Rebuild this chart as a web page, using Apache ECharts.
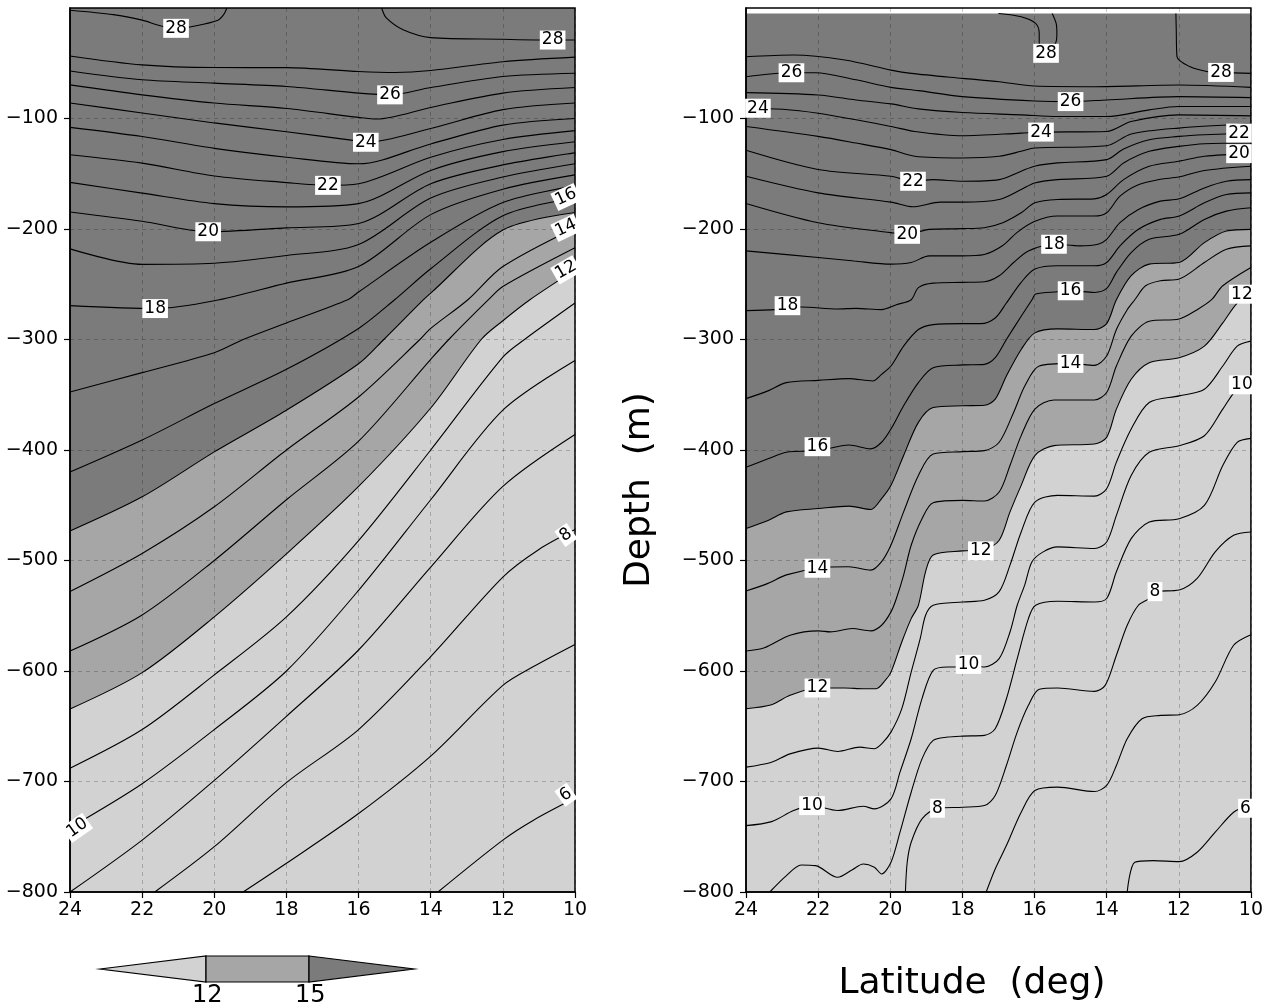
<!DOCTYPE html>
<html>
<head>
<meta charset="utf-8">
<script src="https://cdn.jsdelivr.net/npm/echarts/dist/echarts.min.js"></script>
<style>
  html, body { margin: 0; padding: 0; background: #fff; }
  #chart { width: 1266px; height: 1004px; }
</style>
</head>
<body>
<div id="chart"></div>
<script>
// colours of the three shaded bands (<12, 12-15, >15)
const LIGHT = '#d2d2d2'
const MID = '#a6a6a6'
const DARK = '#7b7b7b'
const FONT = 'DejaVu Sans'

const latMin = 10
const latMax = 24
const depthMin = -800
const depthMax = 0
const depthTicks = [-800, -700, -600, -500, -400, -300, -200, -100]
const rightDataTop = -5 // right section starts a few metres below the surface

// ---- left panel contours: [lat, depth] ----
const left28a = [[24,-2],[22.8,-6],[22,-11],[21.5,-16],[21.06,-18.4],[20.5,-16],[19.9,-11],[19.74,-6],[19.65,0]]
const left28b = [[15.36,0],[15.23,-9],[14.75,-20],[14,-26.8],[12,-28.3],[10.67,-29],[10,-29]]
const left27 = [[24,-43.4],[22,-51.5],[20,-53.9],[18,-54],[16,-57.5],[15,-58.4],[14,-56.6],[12,-48.6],[10,-44.5]]
const left26 = [[24,-57],[22,-65],[20,-68],[18,-71],[16,-77],[15.13,-78.6],[14,-72],[12,-62],[10,-59]]
const left25 = [[24,-69.6],[22,-78.6],[20,-86],[18,-91],[16,-99],[15.5,-100.5],[14,-90],[12,-77],[10,-72]]
const left24 = [[24,-86],[22,-95],[20,-104],[18,-112],[16,-120.5],[15.8,-121.5],[14,-109],[12,-92],[10,-86]]
const left23 = [[24,-108],[22,-116.3],[20,-127],[18,-135],[16,-141],[14,-123],[12,-106],[10,-100]]
const left22 = [[24,-132.8],[22,-140.4],[20,-152],[18,-158],[16.85,-160.5],[16,-159],[14,-135],[12,-119],[10,-111]]
const left21 = [[24,-157.8],[22,-167.5],[20,-177],[18,-180],[16,-177],[14,-147],[12,-130],[10,-121]]
const left20 = [[24,-184.6],[22,-193],[20.17,-202.5],[18,-199],[16,-195],[14,-159],[12,-142],[10,-131]]
const left19 = [[24,-218],[22,-232],[20,-231],[18,-224],[16,-214],[14,-172],[12,-153],[10,-141]]
const left18 = [[24,-269.3],[21.64,-272],[20,-265],[18,-249],[16,-234],[14,-187],[12,-164],[10,-151]]
const left17 = [[24,-347.5],[22,-330],[20,-312],[19.2,-300],[18,-285],[16.3,-264],[16,-257],[14,-212],[12,-176],[10,-161]]
const left16 = [[24,-420],[22,-391],[20,-358],[18,-327],[16,-290],[15,-264],[14,-236],[12,-188],[10,-172]]
const left15 = [[24,-473.3],[22,-442.4],[20,-401.7],[18,-364],[16,-322],[15.3,-300],[14.2,-264],[14,-258],[12,-201],[10,-185]]
const left14 = [[24,-528],[22,-493.6],[20,-451.4],[18,-400],[16,-352],[14.3,-300],[14,-290],[12.97,-264],[12,-234],[10,-199]]
const left13 = [[24,-582],[22,-549.3],[20,-500],[18,-445],[16,-392],[14,-318],[13.5,-300],[12.4,-264],[12,-252],[10,-217]]
const left12 = [[24,-634.4],[22,-601.5],[20,-551],[18,-494],[16,-433],[14,-362],[12.6,-300],[12,-283],[11.25,-264],[10,-237]]
const left11 = [[24,-688],[22,-653],[20,-603.5],[18,-551],[16,-482],[14,-400],[12,-316],[11.4,-300],[10,-267]]
const left10 = [[24,-741.8],[22,-702],[20,-653],[18,-600],[16,-527],[14,-445],[12,-364],[10,-319]]
const left9 = [[24,-800],[22,-753],[20,-699],[18,-641],[16,-581],[14,-506],[12,-433],[10,-386]]
const left8 = [[21.65,-800],[20,-759],[18,-701],[16,-653],[14,-587],[12,-515],[11,-490],[10,-472]]
const left7 = [[19.2,-800],[18,-774],[16,-729],[14,-677],[12,-613],[11.15,-596],[10,-576]]
const left6 = [[13.8,-800],[12,-753],[11.15,-735],[10,-715]]

// ---- right panel contours ----
const right28a = [[17.0,-5],[16.37,-8],[15.97,-14],[15.87,-23],[15.87,-32],[15.68,-41],[15.42,-32],[15.38,-23],[15.4,-14],[15.51,-5]]
const right28b = [[12.08,-5],[12.07,-20],[12.05,-44],[11.7,-53],[11.19,-57.7],[10.83,-58.3],[10,-59.2]]
const right27 = [[24,-44.1],[22.68,-42.6],[21.26,-47.1],[19.98,-56.2],[19.42,-59.2],[18,-63.7],[16.98,-66.7],[16,-70.6],[14.34,-71.2],[12,-69.7],[10,-71.8]]
const right26 = [[24,-62.2],[22.75,-58.6],[22.07,-58.6],[20.95,-65],[19.98,-71.8],[19.22,-74.8],[18,-80.2],[16,-84.1],[15,-84.7],[14,-83.2],[12,-80.2],[10,-81.1]]
const right25 = [[24,-76.6],[22,-78.7],[20.95,-83.2],[19.98,-86.8],[19.22,-91.3],[18,-94.6],[16.37,-96.7],[15.36,-98.2],[14,-98.2],[12.82,-92.2],[12,-89.2],[10,-89.2]]
const right24 = [[24,-90.7],[22.98,-91.6],[22,-95.2],[20.95,-101.2],[19.98,-107.2],[19.32,-111.7],[18,-115.6],[16.37,-113.2],[15.82,-112.3],[14,-111.7],[13.32,-102.7],[12,-96.7],[10,-97.6]]
const right23 = [[24,-107.2],[22,-116.2],[20.95,-122.2],[19.98,-128.2],[19.32,-134.2],[18,-135.7],[16.98,-134.2],[16.37,-129.7],[16,-126.7],[14,-124.6],[13.32,-114],[12,-108.7],[10,-104.8]]
const right22 = [[24,-128.8],[22,-146.2],[19.98,-152.3],[19.37,-156.8],[18.81,-155.3],[18,-156.8],[16.98,-155.3],[16.37,-147.7],[16,-143.2],[15.36,-140.2],[14,-137.2],[13.53,-127.6],[12.82,-119.2],[12,-116.2],[11.29,-114.7],[10,-113.2]]
const right21 = [[24,-152.3],[22,-167.3],[19.98,-175.7],[19.37,-179.9],[18.61,-175.7],[18,-175.7],[16.98,-173.3],[16.37,-164.3],[16,-158.3],[15.36,-155.3],[14,-152.3],[13.53,-140.2],[12.82,-129.7],[12,-125.2],[11.29,-122.8],[10,-122.2]]
const right20 = [[24,-176.9],[22,-194.3],[19.98,-203.3],[19.53,-204.8],[18.92,-200.3],[18,-199.7],[17.39,-198.8],[16.88,-194.3],[16.37,-185.3],[15.99,-176.3],[15.36,-173.3],[14.34,-172.7],[14,-168.8],[13.53,-155.3],[12.82,-143.2],[12,-138.7],[11.29,-134.2],[10,-131.8]]
const right19 = [[24,-219.8],[22,-225.8],[21,-229],[19.98,-231.8],[19.42,-230.3],[18.92,-224.3],[18,-224.3],[17.39,-223],[16.88,-215],[16.48,-203],[15.99,-193],[15.36,-188.3],[14.34,-188.3],[14,-185.3],[13.63,-170.3],[13.12,-160],[12.51,-155],[12,-153],[11.29,-147],[10,-143.2]]
const right18 = [[24,-273.9],[23.19,-273],[22.47,-270.6],[21.46,-272.4],[20.95,-271.8],[20.24,-273],[19.83,-268.5],[19.42,-264],[19.22,-253],[18.81,-249],[18,-248.3],[17.39,-247.7],[16.98,-242.3],[16.58,-230.3],[16.17,-219.8],[15.46,-213.8],[14.75,-215.3],[14.24,-213.8],[14,-209.3],[13.63,-194.3],[13.12,-182.3],[12.51,-174.8],[11.99,-172.7],[11.29,-162.8],[10.68,-156.8],[10,-155.3]]
const right17 = [[24,-353.5],[23.39,-346.5],[22.88,-339],[21.99,-337],[21.15,-335.4],[20.49,-337.5],[20.24,-331.5],[19.98,-324],[19.63,-306],[19.22,-291],[18.81,-286.5],[17.99,-285.6],[17.49,-285.6],[17.09,-280.5],[16.78,-267],[16.37,-248.3],[15.99,-236.3],[15.36,-233.3],[14.34,-233.3],[14,-230.3],[13.63,-215.3],[13.12,-200.3],[12.51,-191.3],[11.99,-188.3],[11.29,-176.3],[10.68,-168.8],[10,-167.3]]
const right16 = [[24,-415.6],[23.39,-408],[22.88,-402],[21.99,-400.6],[21.15,-395.5],[20.54,-399],[20.24,-393],[19.98,-381],[19.63,-360],[19.22,-339],[18.81,-325.5],[17.99,-323],[17.39,-322.5],[17.09,-316.5],[16.78,-300],[16.37,-279],[16.07,-264],[15.97,-258.9],[15.36,-256.8],[15.0,-255.9],[14.34,-257.4],[14,-253.8],[13.73,-239.3],[13.32,-221.3],[12.82,-209.3],[11.99,-204.8],[11.29,-191.3],[10.68,-183.8],[10,-180.8]]
const right15 = [[24,-471],[23.39,-463.7],[22.88,-456],[21.99,-453],[21.15,-450.8],[20.54,-453.8],[20.24,-444],[19.98,-432],[19.63,-405],[19.22,-375],[18.81,-361.6],[17.99,-360],[17.39,-359.5],[17.09,-354],[16.78,-333],[16.37,-309],[15.99,-294],[15.36,-290.4],[14.34,-291],[14,-285.6],[13.73,-264],[13.32,-242.3],[12.82,-231.8],[11.99,-230.3],[11.29,-212.3],[10.68,-201.8],[10,-200.3]]
const right14 = [[24,-527.6],[23.39,-520.7],[22.88,-513],[22.02,-507],[21.15,-505.7],[20.54,-508.7],[20.24,-501],[19.98,-486],[19.63,-456],[19.22,-423],[18.81,-403.6],[17.99,-401.5],[17.39,-400.6],[16.98,-393],[16.58,-366],[16.27,-342],[15.87,-324],[15.0,-321.6],[14.34,-323.4],[14,-315],[13.73,-291],[13.43,-273],[13.22,-264],[12.92,-251.4],[12.51,-246.8],[11.99,-245.3],[11.29,-230.3],[10.68,-218.3],[10,-215.3]]
const right13 = [[24,-581.9],[23.49,-579],[22.78,-567.6],[21.99,-563.7],[21.66,-564.6],[21.05,-561.6],[20.54,-563.7],[20.24,-558.6],[19.98,-546.5],[19.83,-534.4],[19.63,-513.2],[19.42,-486.2],[19.12,-462.2],[18.81,-447.7],[17.99,-445.6],[17.39,-446.2],[16.98,-438],[16.68,-414],[16.37,-387],[15.99,-363],[15.46,-354.7],[14.34,-354.7],[14,-348],[13.73,-324],[13.32,-297],[12.82,-283.5],[11.99,-281.4],[11.49,-273],[11.09,-264],[10.78,-251.4],[10,-234.8]]
const right12 = [[24,-634.1],[23.29,-630.5],[22.78,-622],[22.02,-615.4],[21.26,-615.4],[20.75,-616],[20.39,-616],[20.14,-608.5],[19.98,-601],[19.68,-573.7],[19.42,-552.6],[19.22,-540.5],[19.02,-510],[18.81,-495],[17.99,-491.3],[17.39,-489.8],[16.98,-481.7],[16.68,-456],[16.37,-432],[15.99,-405],[15.46,-396],[14.34,-394.6],[14,-388.6],[13.73,-363],[13.32,-336],[12.82,-321],[11.99,-316.5],[11.29,-306],[10.78,-285],[10.38,-267],[10,-258.9]]
const right11 = [[24,-687],[23.29,-682.5],[22.78,-675],[21.99,-669.8],[21.46,-672.8],[20.85,-668.9],[20.44,-670.4],[20.24,-665.9],[19.98,-655.3],[19.68,-634.1],[19.42,-601],[19.17,-570.7],[19.02,-549.5],[18.81,-540.5],[17.99,-537.5],[17.39,-536],[16.98,-528.2],[16.68,-504.2],[16.37,-474.2],[15.99,-447.1],[15.36,-441.1],[14.34,-441.7],[14,-435],[13.73,-411],[13.32,-381],[12.82,-357],[11.99,-351],[11.29,-345],[10.78,-324],[10.38,-306],[10,-301.5]]
const right10 = [[24,-739.9],[23.29,-736.3],[22.68,-726.3],[22.17,-721.8],[21.46,-726.3],[20.75,-722.4],[20.44,-724.8],[19.98,-715.7],[19.73,-691.5],[19.42,-661.3],[19.12,-625],[18.81,-599.4],[18.41,-596.4],[17.99,-596.4],[17.83,-594],[17.39,-596.4],[16.98,-588.8],[16.68,-564.7],[16.48,-540.5],[16.27,-522],[16.07,-501.2],[15.76,-492.2],[15.36,-487.7],[14.34,-489.2],[14,-483.2],[13.73,-459.2],[13.32,-423.1],[12.82,-402.1],[11.99,-396.1],[11.29,-387.1],[10.78,-363],[10.38,-345],[10,-341.4]]
const right9 = [[23.34,-800],[22.88,-785.2],[22.47,-775.5],[22.07,-776.1],[21.46,-786.7],[21.05,-779.8],[20.75,-774.6],[20.44,-777.6],[20.24,-783.7],[19.98,-773.1],[19.73,-745.9],[19.42,-709.7],[19.12,-679.5],[18.81,-662.8],[18.41,-659.8],[17.99,-658.9],[17.39,-658.3],[17.09,-652.3],[16.78,-625.1],[16.48,-588.8],[16.17,-552.6],[15.97,-540.5],[15.36,-536.9],[14.34,-537.5],[14,-534.4],[13.73,-510.2],[13.32,-480.2],[12.82,-465.2],[11.99,-462.2],[11.29,-450.2],[10.78,-414.1],[10.38,-393.1],[10,-389.5]]
const right8 = [[19.58,-800],[19.53,-773.1],[19.42,-755],[19.12,-733.8],[18.69,-724.2],[17.99,-723.3],[17.39,-721.8],[17.09,-712.7],[16.78,-685.5],[16.48,-655.3],[16.17,-631.1],[15.87,-616.6],[15.36,-615.4],[14.34,-618.4],[14.04,-613],[13.73,-585.8],[13.43,-558.6],[13.12,-540.5],[12.82,-534.4],[12.66,-528.2],[11.99,-526.7],[11.49,-516.2],[10.99,-492.2],[10.48,-477.2],[10,-474.2]]
const right7 = [[17.34,-800],[17.09,-779.2],[16.78,-758],[16.37,-727.8],[15.99,-708.2],[15.36,-705.1],[14.34,-709.1],[14,-703.6],[13.73,-685.5],[13.43,-661.3],[13.02,-643.2],[12.51,-640.2],[11.99,-639.6],[11.49,-631.1],[10.99,-610],[10.48,-576.7],[10,-567.1]]
const right6 = [[13.43,-800],[13.22,-773.1],[12.71,-771.6],[11.99,-772.5],[11.49,-764],[10.99,-745.9],[10.48,-727.8],[10.17,-724.2],[10,-724.2]]

// contour labels: [lat, depth, text, rotation]
const leftLabels = [
  [21.06,-18.4,'28',0],[10.62,-29,'28',0],[15.13,-78.6,'26',0],[15.8,-121.5,'24',0],
  [16.85,-160.5,'22',0],[20.17,-202.5,'20',0],[21.64,-272,'18',0],
  [10.25,-171,'16',25],[10.25,-199,'14',25],[10.25,-237,'12',30],
  [10.25,-477,'8',35],[10.25,-712,'6',35],[23.8,-742,'10',35]
]
const rightLabels = [
  [15.68,-41,'28',0],[10.83,-58.3,'28',0],[22.74,-58.6,'26',0],[15.0,-84.7,'26',0],
  [23.67,-90.7,'24',0],[15.82,-112.3,'24',0],[19.37,-156.8,'22',0],[10.33,-113.2,'22',0],
  [19.53,-204.8,'20',0],[10.33,-131.8,'20',0],[22.85,-269.4,'18',0],[15.46,-213.8,'18',0],
  [22.02,-397,'16',0],[15.0,-255.9,'16',0],[22.02,-507,'14',0],[15.0,-321.6,'14',0],
  [22.02,-615.4,'12',0],[17.49,-491.3,'12',0],[10.25,-259,'12',0],
  [22.17,-721.8,'10',0],[17.83,-594,'10',0],[10.25,-341,'10',0],
  [18.69,-724.2,'8',0],[12.66,-528.2,'8',0],[10.15,-724.2,'6',0]
]

const leftContours = [left28a,left28b,left27,left26,left25,left24,left23,left22,left21,left20,left19,left18,left17,left16,left15,left14,left13,left12,left11,left10,left9,left8,left7,left6]
const rightContours = [right28a,right28b,right27,right26,right25,right24,right23,right22,right21,right20,right19,right18,right17,right16,right15,right14,right13,right12,right11,right10,right9,right8,right7,right6]

const SMOOTH = 0.3

function fillSeries(idx, pts, color) {
  return {
    type: 'line', xAxisIndex: idx, yAxisIndex: idx, data: pts,
    smooth: SMOOTH, symbol: 'none', silent: true, z: 1,
    lineStyle: { width: 0 },
    areaStyle: { color: color, opacity: 1, origin: 'end' }
  }
}

function lineSeries(idx, pts) {
  return {
    type: 'line', xAxisIndex: idx, yAxisIndex: idx, data: pts,
    smooth: SMOOTH, symbol: 'none', silent: true, z: 3,
    lineStyle: { color: '#000', width: 1.1 }
  }
}

function labelSeries(idx, labels) {
  return {
    type: 'scatter', xAxisIndex: idx, yAxisIndex: idx, symbolSize: 0, silent: true, z: 6,
    itemStyle: { opacity: 1 },
    data: labels.map(l => ({
      value: [l[0], l[1]], name: l[2],
      label: { rotate: l[3] }
    })),
    label: {
      show: true, position: 'inside', formatter: '{b}',
      color: '#000', fontSize: 17, fontFamily: FONT, opacity: 1,
      backgroundColor: '#ffffff', padding: [2, 2, 0, 2]
    }
  }
}

// white strip above the right section and the black frame of each panel
function rectSeries(idx, top, bottom, style, z) {
  return {
    type: 'custom', xAxisIndex: idx, yAxisIndex: idx, silent: true, z: z, clip: false,
    data: [[latMax, top]],
    renderItem: function (params, api) {
      const a = api.coord([latMax, top])
      const b = api.coord([latMin, bottom])
      return {
        type: 'rect',
        shape: { x: Math.min(a[0], b[0]), y: a[1], width: Math.abs(b[0] - a[0]), height: b[1] - a[1] },
        style: style
      }
    }
  }
}

function xAxis(idx) {
  return {
    type: 'value', gridIndex: idx, min: latMin, max: latMax, interval: 2, inverse: true, z: 1.5,
    axisLine: { show: true, onZero: false, lineStyle: { color: '#000', width: 1.5 } },
    axisTick: { show: true, length: 6, lineStyle: { color: '#000', width: 1.2 } },
    axisLabel: { color: '#000', fontSize: 19, fontFamily: FONT, margin: 9 },
    splitLine: { show: true, lineStyle: { type: [4, 4], color: 'rgba(0,0,0,0.22)', width: 1 } }
  }
}

function yAxis(idx) {
  return {
    type: 'value', gridIndex: idx, min: depthMin, max: depthMax, interval: 100, z: 1.5,
    axisLine: { show: true, onZero: false, lineStyle: { color: '#000', width: 1.5 } },
    axisTick: { show: true, length: 6, customValues: depthTicks, lineStyle: { color: '#000', width: 1.2 } },
    axisLabel: {
      color: '#000', fontSize: 19, fontFamily: FONT, margin: 12, customValues: depthTicks,
      formatter: v => '\u2212' + Math.abs(v)
    },
    splitLine: { show: true, lineStyle: { type: [4, 4], color: 'rgba(0,0,0,0.22)', width: 1 } }
  }
}

const frameStyle = { fill: 'none', stroke: '#000', lineWidth: 1.5 }

const series = [
  fillSeries(0, left12, MID),
  fillSeries(0, left15, DARK),
  ...leftContours.map(c => lineSeries(0, c)),
  labelSeries(0, leftLabels),
  rectSeries(0, depthMax, depthMin, frameStyle, 5),

  fillSeries(1, right12, MID),
  fillSeries(1, right15, DARK),
  rectSeries(1, depthMax, rightDataTop, { fill: '#fff' }, 1.2),
  ...rightContours.map(c => lineSeries(1, c)),
  labelSeries(1, rightLabels),
  rectSeries(1, depthMax, depthMin, frameStyle, 5)
]

const chart = echarts.init(document.getElementById('chart'), null, { renderer: 'canvas' })

chart.setOption({
  backgroundColor: '#fff',
  animation: false,
  grid: [
    { left: 70, top: 8, width: 505, height: 884, show: true, backgroundColor: LIGHT, borderWidth: 0 },
    { left: 746, top: 8, width: 505, height: 884, show: true, backgroundColor: LIGHT, borderWidth: 0 }
  ],
  xAxis: [xAxis(0), xAxis(1)],
  yAxis: [yAxis(0), yAxis(1)],
  series: series,
  graphic: [
    // colour bar legend
    { type: 'polygon', shape: { points: [[100, 969], [206, 956], [206, 982]] }, style: { fill: LIGHT, stroke: '#000', lineWidth: 1.2 } },
    { type: 'rect', shape: { x: 206, y: 956, width: 103, height: 26 }, style: { fill: MID, stroke: '#000', lineWidth: 1.2 } },
    { type: 'polygon', shape: { points: [[309, 956], [414, 969], [309, 982]] }, style: { fill: DARK, stroke: '#000', lineWidth: 1.2 } },
    { type: 'text', left: 192, top: 984, style: { text: '12', font: '24px "' + FONT + '"', fill: '#000' } },
    { type: 'text', left: 295, top: 984, style: { text: '15', font: '24px "' + FONT + '"', fill: '#000' } },
    // axis titles
    {
      type: 'text', x: 640, y: 490, rotation: Math.PI / 2,
      style: { text: 'Depth  (m)', font: '36px "' + FONT + '"', fill: '#000', align: 'center', verticalAlign: 'middle' }
    },
    {
      type: 'text', x: 972, y: 984,
      style: { text: 'Latitude  (deg)', font: '36px "' + FONT + '"', fill: '#000', align: 'center', verticalAlign: 'middle' }
    }
  ]
})
</script>
</body>
</html>
